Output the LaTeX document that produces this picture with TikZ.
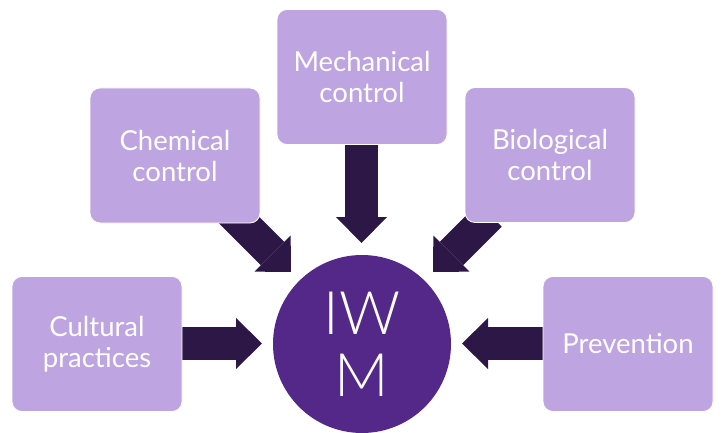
\documentclass[tikz,border=0pt]{standalone}
\usepackage{fontspec}
\setmainfont{Lato}
\newfontfamily\hubfont{Lato Light}
\usetikzlibrary{arrows.meta}
\definecolor{boxfill}{RGB}{190,164,225}
\definecolor{circfill}{RGB}{83,40,136}
\definecolor{arrowdark}{RGB}{44,23,70}
\begin{document}
\begin{tikzpicture}[x=1pt,y=-1pt,
  box/.style={rectangle, rounded corners=10pt, fill=boxfill, draw=white, line width=0.8pt,
    minimum width=170pt, minimum height=135pt, inner sep=0pt, text=white, align=center,
    font=\fontsize{27.5}{31}\selectfont},
  blockarrow/.style={draw=arrowdark, line width=33pt, line cap=butt,
    -{Triangle[width=51pt,length=26pt,line width=0pt]}},
  hub/.style={circle, fill=circfill, minimum size=178pt, inner sep=0pt, text=white,
    align=center, font=\hubfont\fontsize{60}{62}\selectfont}]
\useasboundingbox (0,0) rectangle (723,433);
% arrow end points
\coordinate (s1) at (225,206);   \coordinate (e1) at (291,272);
\coordinate (s2) at (361.5,140); \coordinate (e2) at (361.5,243);
\coordinate (s3) at (490,215);   \coordinate (e3) at (433,272);
\coordinate (s4) at (175,343.5); \coordinate (e4) at (262,343.5);
\coordinate (s5) at (550,343.5); \coordinate (e5) at (462,343.5);
\draw[blockarrow] (s1) -- (e1);
\draw[blockarrow] (s2) -- (e2);
\draw[blockarrow] (s3) -- (e3);
\draw[blockarrow] (s4) -- (e4);
\draw[blockarrow] (s5) -- (e5);
% nodes
\node[box] (chem) at (175,155.5) {Chemical\\control};
\node[box] (mech) at (362,77) {Mechanical\\control};
\node[box] (bio) at (550,155) {Biological\\control};
\node[box] (cult) at (97,344) {Cultural\\practices};
\node[box] (prev) at (628,344) {Prevention};
\node[hub] (iwm) at (362,344) {IW\\M};
\end{tikzpicture}
\end{document}
